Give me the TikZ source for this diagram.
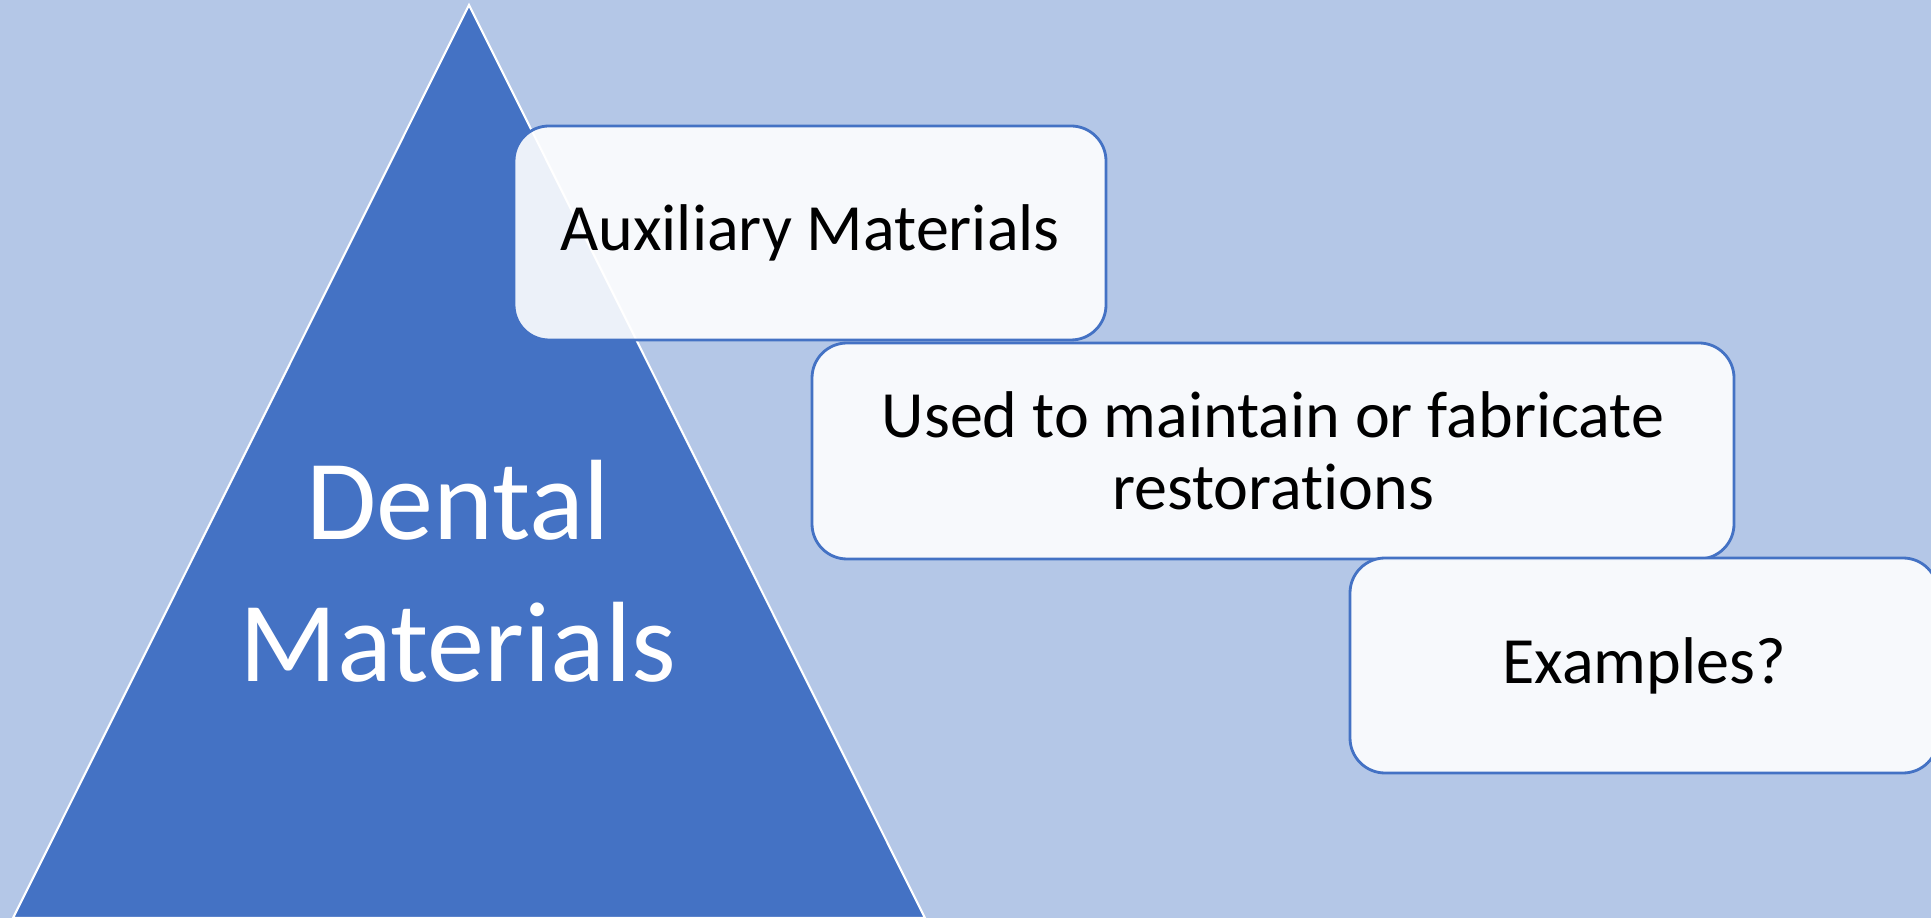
\documentclass[tikz,border=0pt]{standalone}
\usepackage{fontspec}
\setmainfont[Ligatures=NoCommon]{Carlito}
\usetikzlibrary{positioning}

\definecolor{slideblue}{HTML}{B4C7E7}
\definecolor{pyramidblue}{HTML}{4472C4}

\begin{document}
\begin{tikzpicture}[
    pyramid/.style={fill=pyramidblue, draw=white, line width=0.6pt},
    stepbox/.style={rounded corners=0.35cm, fill=white, fill opacity=0.9,
        text opacity=1, draw=pyramidblue, line width=0.8pt,
        font=\fontsize{18.8}{20.5}\selectfont, align=center},
    title/.style={text=white, font=\fontsize{32.5}{40.5}\selectfont, align=center}
]
    % Background
    \clip (0,0) rectangle (19.31,9.18);
    \fill[slideblue] (0,0) rectangle (19.31,9.18);

    % Pyramid
    \draw[pyramid] (0.13,0) -- (4.69,9.13) -- (9.25,0) -- cycle;
    \node[title] (dental) at (4.58,3.47) {Dental\\Materials};

    % Steps
    \node[stepbox, minimum width=5.92cm, minimum height=2.14cm] (aux)
        at (8.10,6.85) {Auxiliary Materials};
    \node[stepbox, minimum width=9.22cm, minimum height=2.16cm] (use)
        at (12.73,4.67) {Used to maintain or fabricate\\restorations};
    \node[stepbox, minimum width=5.88cm, minimum height=2.15cm] (examples)
        at (16.44,2.525) {Examples?};
\end{tikzpicture}
\end{document}
